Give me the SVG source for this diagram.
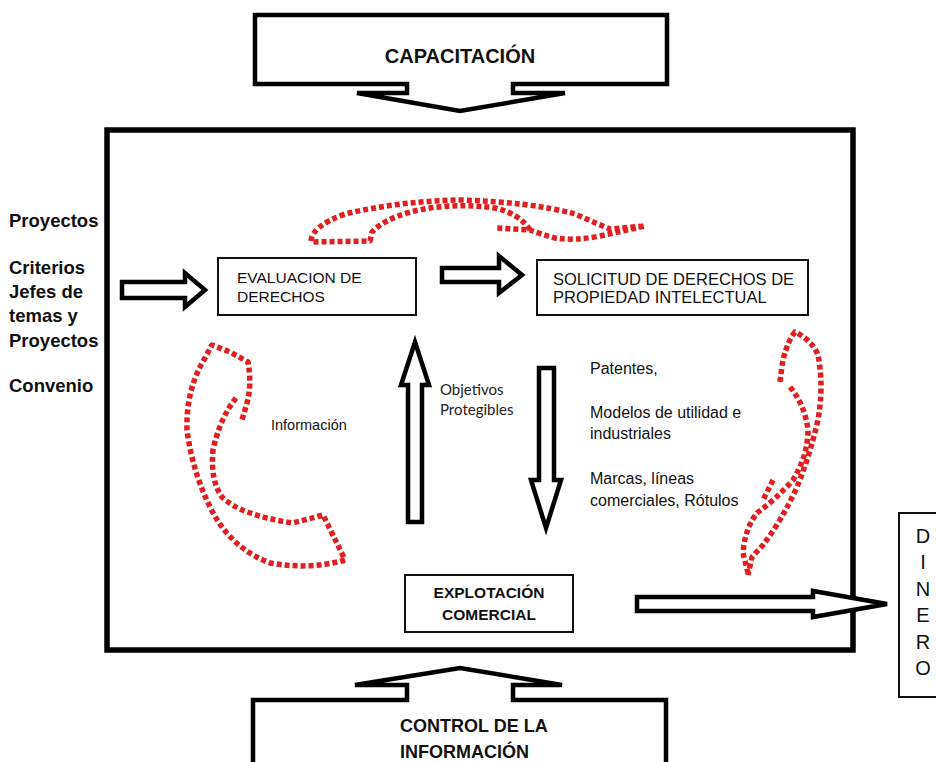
<svg xmlns="http://www.w3.org/2000/svg" width="936" height="762" viewBox="0 0 936 762">
<defs>
<style>
.t{font-family:"Liberation Sans",Arial,sans-serif;fill:#111}
.b{font-weight:bold}
.cal{font-family:Lato,"Open Sans",sans-serif;fill:#222;font-size:15px}
.blk{fill:#fff;stroke:#000;stroke-width:4.5;stroke-linejoin:miter}
.box{fill:#fff;stroke:#111;stroke-width:2}
.red{fill:none;stroke:#e02020;stroke-width:5.5;stroke-dasharray:5 3;stroke-linejoin:round}
</style>
</defs>
<rect width="936" height="762" fill="#fff"/>
<g id="frame"><rect x="107" y="130" width="746" height="520" fill="none" stroke="#000" stroke-width="5.5"/></g>

<g id="capacitacion">
<path class="blk" d="M255 15 H667 V84 H513 V93 H565 L460 111 L357 93 H407 V84 H255 Z"/>
<text class="t b" x="460" y="63" font-size="20" text-anchor="middle">CAPACITACIÓN</text>
</g>

<g id="control">
<path class="blk" d="M253 775 V700 H407 V685 H355 L460 668 L562 685 H513 V700 H666 V775 Z"/>
<text class="t b" x="400" y="732" font-size="18">CONTROL DE LA</text>
<text class="t b" x="400" y="758" font-size="18">INFORMACIÓN</text>
</g>

<g id="inputs">
<text class="t b" x="9" y="227" font-size="18.5">Proyectos</text>
<text class="t b" x="9" y="274" font-size="18.5">Criterios</text>
<text class="t b" x="9" y="298" font-size="18.5">Jefes de</text>
<text class="t b" x="9" y="322" font-size="18.5">temas y</text>
<text class="t b" x="9" y="347" font-size="18.5">Proyectos</text>
<text class="t b" x="9" y="392" font-size="18.5">Convenio</text>
</g>

<g id="evaluacion">
<rect class="box" x="218" y="258" width="198" height="57"/>
<text class="t" x="237" y="283" font-size="15.5">EVALUACION DE</text>
<text class="t" x="237" y="302" font-size="15.5">DERECHOS</text>
</g>

<g id="solicitud">
<rect class="box" x="537" y="260" width="271" height="55"/>
<text class="t" x="553" y="285" font-size="16.5">SOLICITUD DE DERECHOS DE</text>
<text class="t" x="553" y="303" font-size="16.5">PROPIEDAD INTELECTUAL</text>
</g>

<g id="explotacion">
<rect class="box" x="405" y="575" width="168" height="57"/>
<text class="t b" x="489" y="598" font-size="15.5" text-anchor="middle">EXPLOTACIÓN</text>
<text class="t b" x="489" y="620" font-size="15.5" text-anchor="middle">COMERCIAL</text>
</g>

<g id="dinero">
<rect class="box" x="899" y="513" width="50" height="184"/>
<g class="t" font-size="20" text-anchor="middle">
<text x="923" y="543">D</text>
<text x="923" y="569">I</text>
<text x="923" y="596">N</text>
<text x="923" y="622">E</text>
<text x="923" y="649">R</text>
<text x="923" y="675">O</text>
</g>
</g>

<g id="labels">
<text class="cal" x="440" y="395">Objetivos</text>
<text class="cal" x="440" y="415">Protegibles</text>
<text class="t" x="271" y="430" font-size="14.5">Información</text>
<g class="t" font-size="16">
<text x="590" y="374">Patentes,</text>
<text x="590" y="418">Modelos de utilidad e</text>
<text x="590" y="439">industriales</text>
<text x="590" y="484">Marcas, líneas</text>
<text x="590" y="506">comerciales, Rótulos</text>
</g>
</g>

<g id="connectors">
<path class="blk" d="M122 282 H185 V273 L205 290 L185 307 V298 H122 Z"/>
<path class="blk" d="M442 268 H499 V256 L522 275 L499 293 V282 H442 Z"/>
<path class="blk" stroke-width="4" d="M408 522 V385 H401 L415 342 L429 385 H422 V522 Z"/>
<path class="blk" stroke-width="4" d="M539 368 H554 V480 H561 L546 528 L531 480 H539 Z"/>
<path class="blk" stroke-width="4" d="M637 597 H813 V591 L887 604 L813 617 V611 H637 Z"/>
</g>

<g id="cycle-top">
<path class="red" d="M311 241 Q312 226 345 214 Q400 201 460 200 Q530 202 575 214 Q598 224 610 229 L645 226 L600 236 Q575 241 555 238 Q540 234 530 230 L497 228"/>
<path class="red" d="M530 230 Q520 214 495 208 Q450 202 410 212 Q383 220 372 232 L370 241 L311 242"/>
</g>

<g id="cycle-left">
<path class="red" d="M345 560 Q310 570 270 563 Q230 548 210 507 Q192 470 187 430 Q186 395 200 367 L212 345 L230 352 L248 362 Q252 385 247 403 L242 420"/>
<path class="red" d="M236 398 Q220 418 213 450 Q210 480 222 497 Q240 515 293 523 L323 515 Q333 535 345 560"/>
</g>

<g id="cycle-right">
<path class="red" d="M780 382 Q782 365 783 360 Q788 340 795 332 Q812 340 818 355 Q824 385 818 420 Q810 455 797 487 Q782 520 763 545 L752 557 L748 575"/>
<path class="red" d="M790 387 Q805 405 808 430 Q808 455 793 480 Q775 500 757 513 Q745 528 743 553 L748 573"/>
<path class="red" d="M773 480 L763 500"/>
</g>
</svg>
